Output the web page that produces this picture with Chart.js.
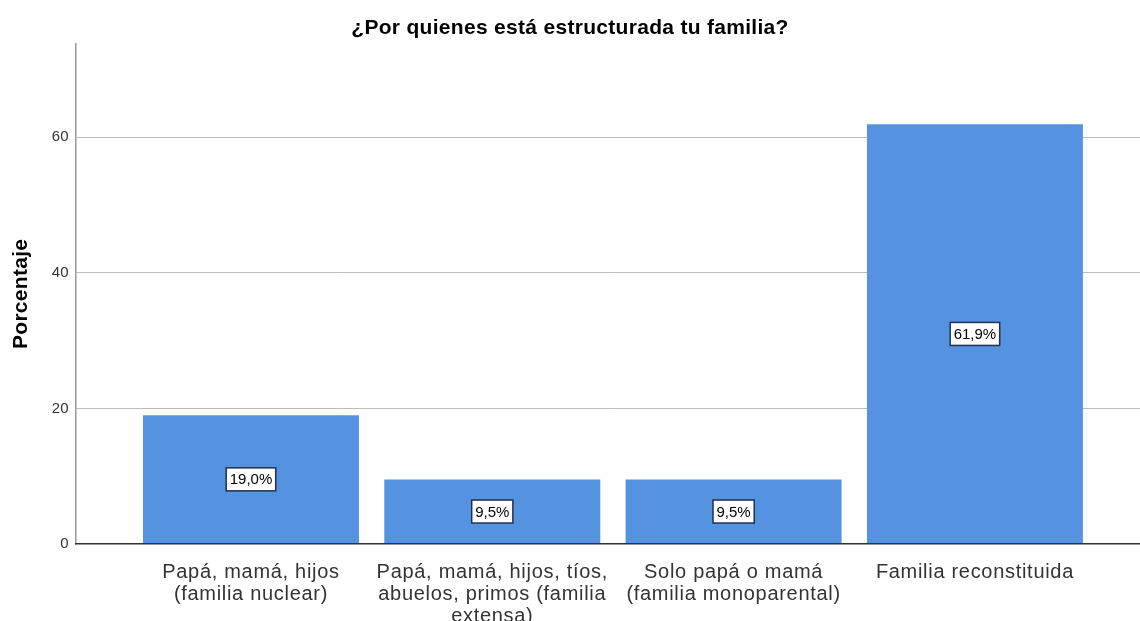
<!DOCTYPE html>
<html>
<head>
<meta charset="utf-8">
<script src="https://cdn.jsdelivr.net/npm/chart.js@4/dist/chart.umd.min.js"></script>
<style>
    html, body { margin: 0; padding: 0; background: #ffffff; }
    #wrap { width: 1140px; height: 621px; }
</style>
</head>
<body>
<div id="wrap"><canvas id="barChartFamilia"></canvas></div>
<script>
// Categorías (etiquetas del eje X, con saltos de línea)
var categorias = [
    ['Papá, mamá, hijos', '(familia nuclear)'],
    ['Papá, mamá, hijos, tíos,', 'abuelos, primos (familia', 'extensa)'],
    ['Solo papá o mamá', '(familia monoparental)'],
    ['Familia reconstituida']
];
// Porcentajes de cada categoría
var porcentajes = [19.0, 9.5, 9.5, 61.9];
// Marcas del eje Y
var ticksY = [0, 20, 40, 60];

var fuente = 'Arial, "Liberation Sans", sans-serif';

document.addEventListener('DOMContentLoaded', function() {
    // Espaciado de letras parecido al de SPSS + etiquetas de las barras
    var espaciado = {
        id: 'espaciado',
        beforeDraw: function(chart) { chart.ctx.letterSpacing = '0.3px'; },
        afterDatasetsDraw: function(chart) {
            var ctx = chart.ctx;
            var meta = chart.getDatasetMeta(0);
            // Etiquetas con recuadro dentro de cada barra
            ctx.save();
            ctx.letterSpacing = '0px';
            ctx.font = '15px ' + fuente;
            ctx.textAlign = 'center';
            ctx.textBaseline = 'middle';
            meta.data.forEach(function(barra, i) {
                var p = barra.getProps(['x', 'y', 'base'], true);
                var texto = porcentajes[i].toFixed(1).replace('.', ',') + '%';
                var cy = (p.y + p.base) / 2;
                var w = ctx.measureText(texto).width + 7;
                var h = 23;
                ctx.fillStyle = '#ffffff';
                ctx.fillRect(p.x - w / 2, cy - h / 2, w, h);
                ctx.strokeStyle = '#1f3050';
                ctx.lineWidth = 1.5;
                ctx.strokeRect(p.x - w / 2, cy - h / 2, w, h);
                ctx.fillStyle = '#000000';
                ctx.fillText(texto, p.x, cy + 1);
            });
            ctx.restore();
            // las etiquetas del eje X se dibujan después (ticks.z: 1)
            ctx.letterSpacing = '0.7px';
        },
        afterDraw: function(chart) { chart.ctx.letterSpacing = '0px'; }
    };

    var datos = {
        datasets: [{
            data: porcentajes.map(function(v, i) { return { x: i, y: v }; }),
            backgroundColor: '#5593e0',
            borderWidth: 0,
            barPercentage: 0.895,
            categoryPercentage: 1.0
        }]
    };

    var opciones = {
        responsive: true,
        maintainAspectRatio: false,
        animation: false,
        layout: { padding: 0 },
        plugins: {
            legend: { display: false },
            tooltip: { enabled: false },
            title: {
                display: true,
                text: '¿Por quienes está estructurada tu familia?',
                color: '#000000',
                font: { family: fuente, size: 21, weight: 'bold', lineHeight: 1.2 },
                padding: { top: 16, bottom: 2.5 }
            }
        },
        scales: {
            x: {
                type: 'linear',
                offset: false,
                min: -0.725,
                max: 3.684,
                grid: { display: false },
                border: { display: true, color: '#333333', width: 1.5, z: 1 },
                afterBuildTicks: function(scale) {
                    scale.ticks = categorias.map(function(c, i) { return { value: i }; });
                },
                afterFit: function(scale) { scale.height = 77; },
                ticks: {
                    z: 1,
                    autoSkip: false,
                    maxRotation: 0,
                    minRotation: 0,
                    padding: 9,
                    color: '#333333',
                    font: { family: fuente, size: 20, lineHeight: 1.1 },
                    callback: function(value) { return categorias[value]; }
                }
            },
            y: {
                min: 0,
                max: 73.8,
                afterBuildTicks: function(scale) {
                    scale.ticks = ticksY.map(function(v) { return { value: v }; });
                },
                afterFit: function(scale) { scale.width = 76; },
                grid: {
                    drawTicks: false,
                    color: function(c) { return c.tick && c.tick.value === 0 ? 'rgba(0,0,0,0)' : '#bdbdbd'; },
                    lineWidth: 1
                },
                border: { display: true, color: '#9a9a9a', width: 1.5 },
                ticks: {
                    padding: 7,
                    color: '#333333',
                    font: { family: fuente, size: 15 }
                },
                title: {
                    display: true,
                    text: 'Porcentaje',
                    color: '#000000',
                    font: { family: fuente, size: 21, weight: 'bold', lineHeight: 1.2 },
                    padding: { top: 9, bottom: 0 }
                }
            }
        }
    };

    var ctxFamilia = document.getElementById('barChartFamilia').getContext('2d');
    new Chart(ctxFamilia, {
        type: 'bar',
        data: datos,
        options: opciones,
        plugins: [espaciado]
    });
});
</script>
</body>
</html>
